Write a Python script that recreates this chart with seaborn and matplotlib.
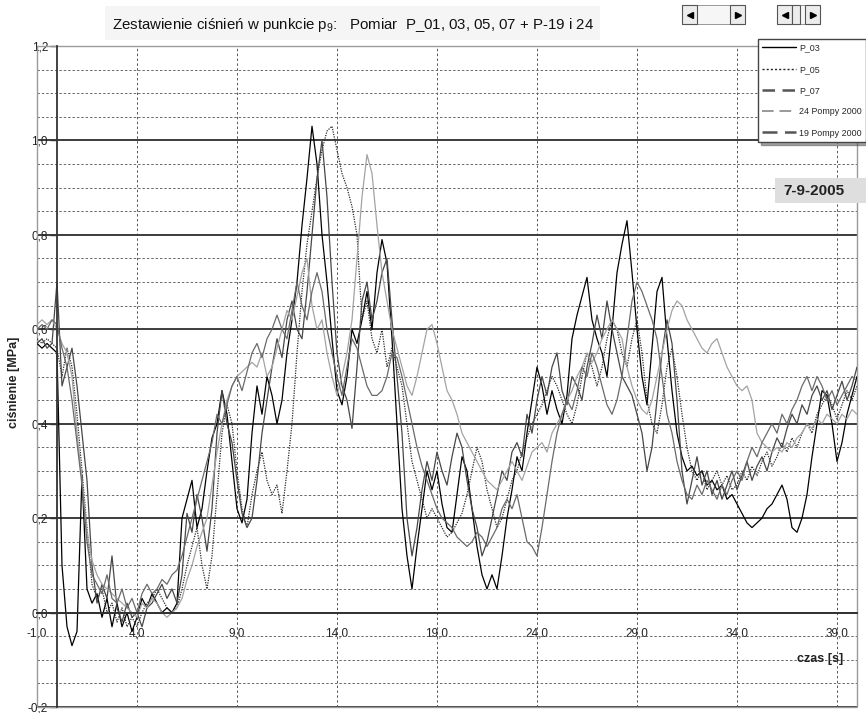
import numpy as np
import pandas as pd
import seaborn as sns
import matplotlib.pyplot as plt
from matplotlib.lines import Line2D
from matplotlib.patches import Rectangle
from matplotlib.ticker import MultipleLocator, FuncFormatter

# czas probkowania [s]
czas = np.round(np.arange(-1.0, 40.01, 0.25), 2)

p_03 = [
    0.57, 0.56, 0.57, 0.56, 0.55, 0.10, -0.03, -0.07,
    -0.04, 0.29, 0.05, 0.02, 0.04, -0.01, 0.03, -0.03,
    0.02, -0.03, 0.00, -0.04, -0.01, 0.03, 0.01, 0.04,
    0.02, 0.00, 0.01, 0.00, 0.02, 0.20, 0.24, 0.28,
    0.18, 0.22, 0.30, 0.37, 0.40, 0.47, 0.42, 0.32,
    0.22, 0.19, 0.24, 0.38, 0.48, 0.42, 0.50, 0.46,
    0.40, 0.45, 0.55, 0.62, 0.70, 0.82, 0.92, 1.03,
    0.95, 0.80, 0.70, 0.58, 0.47, 0.44, 0.50, 0.60,
    0.57, 0.62, 0.68, 0.60, 0.72, 0.79, 0.74, 0.58,
    0.40, 0.22, 0.12, 0.05, 0.14, 0.22, 0.30, 0.26,
    0.30, 0.23, 0.18, 0.17, 0.25, 0.33, 0.30, 0.22,
    0.14, 0.08, 0.05, 0.08, 0.05, 0.12, 0.20, 0.26,
    0.33, 0.30, 0.38, 0.45, 0.52, 0.48, 0.42, 0.47,
    0.43, 0.40, 0.46, 0.58, 0.63, 0.67, 0.71, 0.62,
    0.58, 0.55, 0.50, 0.60, 0.72, 0.78, 0.83, 0.72,
    0.60, 0.50, 0.44, 0.56, 0.68, 0.71, 0.58, 0.47,
    0.38, 0.33, 0.30, 0.31, 0.29, 0.30, 0.27, 0.28,
    0.26, 0.27, 0.24, 0.25, 0.23, 0.21, 0.19, 0.18,
    0.19, 0.20, 0.22, 0.23, 0.25, 0.27, 0.24, 0.18,
    0.17, 0.20, 0.25, 0.33, 0.40, 0.47, 0.46, 0.40,
    0.32, 0.36, 0.42, 0.46, 0.50,
]

p_05 = [
    0.58, 0.57, 0.58, 0.57, 0.56, 0.50, 0.56, 0.52,
    0.42, 0.30, 0.18, 0.06, 0.03, 0.05, 0.00, 0.02,
    -0.02, 0.01, -0.03, -0.01, -0.03, 0.00, 0.02, 0.03,
    0.05, 0.03, 0.01, 0.00, 0.01, 0.05, 0.10, 0.14,
    0.18, 0.10, 0.05, 0.12, 0.25, 0.38, 0.44, 0.40,
    0.30, 0.22, 0.18, 0.25, 0.30, 0.34, 0.28, 0.25,
    0.27, 0.21, 0.30, 0.40, 0.55, 0.68, 0.78, 0.85,
    0.92, 0.98, 1.02, 1.03, 0.98, 0.93, 0.90, 0.86,
    0.80, 0.62, 0.66, 0.58, 0.55, 0.60, 0.52, 0.56,
    0.52, 0.48, 0.40, 0.32, 0.28, 0.24, 0.20, 0.22,
    0.20, 0.18, 0.16, 0.17, 0.19, 0.21, 0.25, 0.30,
    0.35, 0.32, 0.26, 0.22, 0.18, 0.20, 0.24, 0.28,
    0.30, 0.34, 0.37, 0.40, 0.42, 0.44, 0.47, 0.50,
    0.48, 0.45, 0.42, 0.40, 0.44, 0.50, 0.55, 0.52,
    0.48, 0.52, 0.58, 0.62, 0.60, 0.55, 0.52, 0.58,
    0.62, 0.55, 0.45, 0.40, 0.38, 0.44, 0.52, 0.56,
    0.50, 0.42, 0.35, 0.30, 0.28, 0.30, 0.26, 0.28,
    0.30, 0.27, 0.29, 0.26, 0.27, 0.30, 0.28, 0.31,
    0.29, 0.32, 0.34, 0.31, 0.33, 0.36, 0.34, 0.37,
    0.35, 0.38, 0.40, 0.38, 0.42, 0.44, 0.46, 0.44,
    0.41, 0.44, 0.47, 0.45, 0.48,
]

p_07 = [
    0.57, 0.58, 0.56, 0.57, 0.70, 0.48, 0.52, 0.56,
    0.48, 0.38, 0.28, 0.10, 0.02, 0.06, 0.03, 0.12,
    0.01, -0.02, 0.02, -0.01, 0.00, -0.03, 0.01, 0.02,
    0.04, 0.06, 0.03, 0.05, 0.02, 0.08, 0.21, 0.17,
    0.25, 0.20, 0.13, 0.22, 0.38, 0.47, 0.40, 0.36,
    0.28, 0.21, 0.18, 0.20, 0.28, 0.38, 0.45, 0.52,
    0.58, 0.54, 0.62, 0.66, 0.60, 0.58, 0.68, 0.80,
    0.92, 1.00, 0.88, 0.70, 0.55, 0.48, 0.45, 0.39,
    0.52, 0.66, 0.70, 0.62, 0.66, 0.72, 0.75, 0.62,
    0.50, 0.38, 0.20, 0.12, 0.18, 0.26, 0.32, 0.28,
    0.34, 0.30, 0.27, 0.33, 0.38, 0.35, 0.28, 0.22,
    0.18, 0.12, 0.15, 0.20, 0.25, 0.30, 0.28, 0.34,
    0.36, 0.33, 0.42, 0.38, 0.45, 0.50, 0.46, 0.52,
    0.55, 0.47, 0.44, 0.50, 0.48, 0.45, 0.52, 0.57,
    0.63, 0.58, 0.66, 0.60, 0.55, 0.50, 0.48, 0.46,
    0.42, 0.38, 0.30, 0.35, 0.45, 0.55, 0.62, 0.57,
    0.45, 0.30, 0.23, 0.28, 0.33, 0.27, 0.30, 0.25,
    0.28, 0.24, 0.27, 0.30, 0.26, 0.29, 0.32, 0.28,
    0.31, 0.33, 0.30, 0.34, 0.37, 0.35, 0.39, 0.42,
    0.40, 0.44, 0.42, 0.46, 0.48, 0.45, 0.47, 0.43,
    0.46, 0.49, 0.45, 0.48, 0.52,
]

pompy_24 = [
    0.61, 0.62, 0.61, 0.62, 0.60, 0.57, 0.55, 0.50,
    0.38, 0.28, 0.17, 0.11, 0.08, 0.06, 0.05, 0.04,
    0.03, 0.02, 0.01, 0.00, -0.01, 0.02, 0.01, 0.03,
    0.02, 0.00, -0.01, 0.00, 0.01, 0.03, 0.07, 0.10,
    0.14, 0.17, 0.20, 0.27, 0.34, 0.40, 0.45, 0.48,
    0.50, 0.51, 0.52, 0.53, 0.52, 0.55, 0.50, 0.52,
    0.56, 0.60, 0.64, 0.62, 0.67, 0.72, 0.75, 0.65,
    0.60, 0.62, 0.55, 0.50, 0.46, 0.50, 0.55, 0.62,
    0.75, 0.88, 0.97, 0.93, 0.82, 0.72, 0.66, 0.60,
    0.56, 0.52, 0.48, 0.46, 0.50, 0.55, 0.60, 0.61,
    0.57, 0.52, 0.47, 0.45, 0.42, 0.38, 0.36, 0.34,
    0.32, 0.30, 0.28, 0.27, 0.26, 0.28, 0.30, 0.32,
    0.30, 0.28, 0.31, 0.34, 0.35, 0.36, 0.34, 0.38,
    0.40, 0.42, 0.45, 0.47, 0.50, 0.52, 0.55, 0.53,
    0.55, 0.58, 0.60, 0.62, 0.60, 0.58, 0.52, 0.48,
    0.45, 0.43, 0.42, 0.45, 0.50, 0.55, 0.60, 0.64,
    0.66, 0.65, 0.62, 0.60, 0.58, 0.56, 0.55, 0.57,
    0.58, 0.55, 0.52, 0.50, 0.48, 0.47, 0.48, 0.45,
    0.38, 0.36, 0.35, 0.34, 0.35, 0.34, 0.36, 0.35,
    0.37, 0.38, 0.40, 0.39, 0.41, 0.40, 0.42, 0.41,
    0.40, 0.42, 0.41, 0.43, 0.42,
]

pompy_19 = [
    0.60, 0.61, 0.60, 0.62, 0.61, 0.56, 0.52, 0.45,
    0.36, 0.27, 0.15, 0.08, 0.06, 0.04, 0.08, 0.03,
    0.02, 0.05, 0.01, 0.03, 0.00, 0.04, 0.06, 0.04,
    0.05, 0.07, 0.06, 0.08, 0.09, 0.12, 0.16, 0.20,
    0.24, 0.28, 0.32, 0.36, 0.42, 0.40, 0.44, 0.48,
    0.50, 0.47, 0.51, 0.55, 0.57, 0.54, 0.58, 0.60,
    0.63, 0.60, 0.58, 0.64, 0.70, 0.65, 0.62, 0.68,
    0.72, 0.68, 0.60, 0.55, 0.50, 0.46, 0.52, 0.58,
    0.56, 0.52, 0.48, 0.46, 0.46, 0.47, 0.50, 0.55,
    0.54, 0.50, 0.45, 0.40, 0.35, 0.31, 0.28, 0.25,
    0.22, 0.20, 0.19, 0.18, 0.16, 0.15, 0.14, 0.15,
    0.17, 0.16, 0.14, 0.16, 0.18, 0.22, 0.24, 0.22,
    0.25, 0.20, 0.15, 0.14, 0.12, 0.18, 0.25, 0.32,
    0.38, 0.42, 0.45, 0.43, 0.47, 0.52, 0.50, 0.55,
    0.52, 0.48, 0.44, 0.42, 0.45, 0.50, 0.58, 0.66,
    0.70, 0.68, 0.65, 0.62, 0.58, 0.50, 0.42, 0.38,
    0.32, 0.28, 0.25, 0.24, 0.27, 0.25, 0.28, 0.26,
    0.24, 0.27, 0.25, 0.28, 0.30, 0.28, 0.32, 0.35,
    0.33, 0.36, 0.38, 0.40, 0.38, 0.42, 0.40, 0.43,
    0.45, 0.48, 0.50, 0.47, 0.50, 0.48, 0.45, 0.47,
    0.44, 0.46, 0.48, 0.50, 0.49,
]

serie = ["P_03", "P_05", "P_07", "24 Pompy 2000", "19 Pompy 2000"]
wartosci = [p_03, p_05, p_07, pompy_24, pompy_19]
kolory = ["#000000", "#2a2a2a", "#474747", "#a3a3a3", "#6a6a6a"]
kreski = ["", (1, 1), "", "", ""]

df = pd.concat(
    [pd.DataFrame({"czas": czas, "cisnienie": v, "seria": s}) for s, v in zip(serie, wartosci)],
    ignore_index=True,
)

sns.set_theme(style="white")
plt.rcParams["font.family"] = ["Liberation Sans", "DejaVu Sans"]
plt.rcParams["mathtext.fontset"] = "custom"
plt.rcParams["mathtext.rm"] = "Liberation Sans"
plt.rcParams["mathtext.default"] = "regular"

W, H = 866, 713


def fx(x):
    return x / W


def fy(y):
    return 1 - y / H


fig = plt.figure(figsize=(W / 100, H / 100), dpi=100)
fig.patch.set_facecolor("white")

# tlo tytulu
fig.add_artist(Rectangle((fx(105), fy(40)), fx(495), 34 / H, transform=fig.transFigure,
                         fc="#f5f5f5", ec="none", zorder=0))

ax = fig.add_axes([fx(37), fy(707), fx(820), 661 / H])

sns.lineplot(data=df, x="czas", y="cisnienie", hue="seria", style="seria",
             palette=dict(zip(serie, kolory)), dashes=dict(zip(serie, kreski)),
             estimator=None, sort=False, linewidth=0.9, legend=False, ax=ax)

ax.set_xlim(-1, 40)
ax.set_ylim(-0.2, 1.2)
ax.set_xticks(np.arange(-1, 40, 5))
ax.set_yticks(np.arange(-0.2, 1.21, 0.2))
ax.yaxis.set_minor_locator(MultipleLocator(0.05))


def przecinek(v, pos):
    if abs(v) < 1e-9:
        v = 0.0
    return f"{v:.1f}".replace(".", ",")


ax.xaxis.set_major_formatter(FuncFormatter(przecinek))
ax.yaxis.set_major_formatter(FuncFormatter(przecinek))

ax.set_axisbelow(True)
ax.grid(which="major", axis="y", color="#3c3c3c", lw=1.4, ls="-")
ax.grid(which="minor", axis="y", color="#6a6a6a", lw=0.7, ls=(0, (2.5, 2)))
ax.grid(which="major", axis="x", color="#555555", lw=0.7, ls=(0, (2.5, 2.5)))

for s in ["top", "right"]:
    ax.spines[s].set_visible(False)
ax.spines["left"].set_position(("data", 0))
ax.spines["bottom"].set_position(("data", 0))
ax.spines["left"].set_color("#333333")
ax.spines["left"].set_linewidth(1.3)
ax.spines["bottom"].set_color("#333333")
ax.spines["bottom"].set_linewidth(1.4)
ax.add_patch(Rectangle((0, 0), 1, 1, transform=ax.transAxes, fill=False,
                       ec="#9a9a9a", lw=1, clip_on=False, zorder=0.6))

ax.tick_params(axis="y", which="major", length=5, width=1, color="#333333",
               pad=1.5, labelsize=8.5, labelcolor="#222222", left=True)
ax.tick_params(axis="y", which="minor", length=0)
ax.tick_params(axis="x", length=0, pad=11, labelsize=8.5, labelcolor="#222222")
ax.set_xlabel("")
ax.set_ylabel("")

fig.text(fx(353), fy(25),
         "Zestawienie ciśnień w punkcie p$_9$:   Pomiar  P_01, 03, 05, 07 + P-19 i 24",
         ha="center", va="center", fontsize=10.8, color="#111111")
fig.text(fx(14), fy(382), "ciśnienie [MPa]", rotation=90, ha="center", va="center",
         fontsize=9, fontweight="bold", color="#222222")
fig.text(fx(843), fy(659), "czas [s]", ha="right", va="center",
         fontsize=9, fontweight="bold", color="#222222")

# pole z data
fig.add_artist(Rectangle((fx(775), fy(203)), fx(95), 25 / H, transform=fig.transFigure,
                         fc="#dedede", ec="none", zorder=3))
fig.text(fx(783), fy(191), "7-9-2005", ha="left", va="center", fontsize=11,
         fontweight="bold", color="#222222", zorder=4)

# legenda
uchwyty = [
    Line2D([], [], color="#000000", lw=1.0, ls="-"),
    Line2D([], [], color="#222222", lw=1.0, ls=(0, (1.5, 1.5))),
    Line2D([], [], color="#555555", lw=1.8, ls=(0, (5, 3))),
    Line2D([], [], color="#999999", lw=1.4, ls=(0, (6, 3))),
    Line2D([], [], color="#555555", lw=1.8, ls=(0, (6, 3))),
]
leg = fig.legend(uchwyty, serie, loc="upper left", bbox_to_anchor=(fx(758), fy(39)),
                 fontsize=6.4, frameon=True, fancybox=False, shadow=True,
                 handlelength=3.8, handletextpad=0.3, labelspacing=1.38,
                 borderpad=0.5, borderaxespad=0)
leg.get_frame().set_edgecolor("#444444")
leg.get_frame().set_linewidth(1.0)
leg.get_frame().set_facecolor("white")


# suwaki w prawym gornym rogu
def przycisk(x0, x1, y0, y1, znak=None):
    fig.add_artist(Rectangle((fx(x0), fy(y1)), fx(x1 - x0), (y1 - y0) / H,
                             transform=fig.transFigure, fc="#ececec", ec="#555555", lw=0.8))
    if znak:
        fig.add_artist(Line2D([fx((x0 + x1) / 2)], [fy((y0 + y1) / 2)], marker=znak,
                              ms=4, color="black", transform=fig.transFigure))


for (a, b, c, d) in [(682, 745, 697, 730), (777, 820, 792, 805)]:
    fig.add_artist(Rectangle((fx(a), fy(24)), fx(b - a), 19 / H, transform=fig.transFigure,
                             fc="#f6f6f6", ec="#888888", lw=0.6))
    przycisk(a, c, 5, 24, "<")
    przycisk(d, b, 5, 24, ">")
przycisk(792, 800, 5, 24)

fig.savefig("out.png", dpi=100)
